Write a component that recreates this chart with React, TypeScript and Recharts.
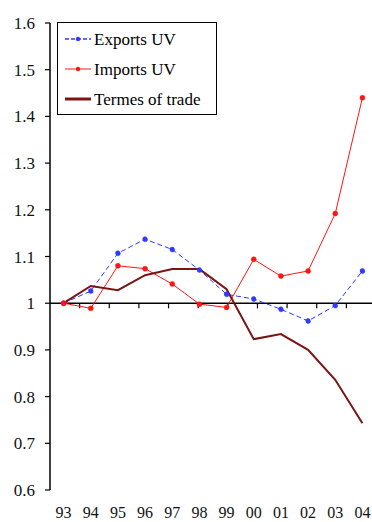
import { Legend, Line, LineChart, ReferenceLine, XAxis, YAxis } from "recharts";

const YEARS = ["93", "94", "95", "96", "97", "98", "99", "00", "01", "02", "03", "04"];
const EXPORTS_UV = [1.0, 1.026, 1.107, 1.137, 1.115, 1.071, 1.019, 1.009, 0.987, 0.962, 0.995, 1.069];
const IMPORTS_UV = [1.0, 0.989, 1.08, 1.074, 1.041, 0.998, 0.991, 1.094, 1.058, 1.069, 1.192, 1.44];
const TERMS_OF_TRADE = [1.0, 1.037, 1.028, 1.06, 1.073, 1.073, 1.03, 0.923, 0.934, 0.9, 0.836, 0.743];
const Y_TICKS = [0.6, 0.7, 0.8, 0.9, 1, 1.1, 1.2, 1.3, 1.4, 1.5, 1.6];

const data = YEARS.map((year, i) => ({
  year,
  exports: EXPORTS_UV[i],
  imports: IMPORTS_UV[i],
  terms: TERMS_OF_TRADE[i],
}));

// boundaries between year bands, for the small ticks hanging off the y=1 line
const BOUNDARIES = YEARS.slice(1).map((_, i) => i + 1);

const FONT = '"Liberation Serif", "Times New Roman", serif';
const BLUE = "#2b3bff";
const RED = "#ff1414";
const DARK = "#7c1414";

const LEGEND_ITEMS = [
  { label: "Exports UV", color: BLUE, dash: "4 2", dot: true, width: 1.5 },
  { label: "Imports UV", color: RED, dash: undefined, dot: true, width: 1 },
  { label: "Termes of trade", color: DARK, dash: undefined, dot: false, width: 3 },
];

function LegendBox() {
  return (
    <div
      style={{
        width: 160,
        height: 93,
        boxSizing: "border-box",
        border: "1.5px solid #000",
        background: "#fff",
        paddingTop: 1,
        fontFamily: FONT,
        fontSize: 17,
        color: "#000",
      }}
    >
      {LEGEND_ITEMS.map((it) => (
        <div key={it.label} style={{ height: 30, display: "flex", alignItems: "center" }}>
          <svg width={34} height={10} style={{ flex: "none" }}>
            <line
              x1={7}
              y1={5}
              x2={33}
              y2={5}
              stroke={it.color}
              strokeWidth={it.width}
              strokeDasharray={it.dash}
            />
            {it.dot && <circle cx={20} cy={5} r={2.2} fill={it.color} />}
          </svg>
          <span style={{ marginLeft: 2, lineHeight: 1 }}>{it.label}</span>
        </div>
      ))}
    </div>
  );
}

function YearTick({ x, y, payload }: any) {
  return (
    <text x={x} y={y} dy={28} textAnchor="middle" fontFamily={FONT} fontSize={16} fill="#111">
      {payload.value}
    </text>
  );
}

export default function App() {
  return (
    <div
      style={{
        position: "absolute",
        left: 0,
        top: 0,
        width: 372,
        height: 522,
        overflow: "hidden",
        background: "#fff",
      }}
    >
      <LineChart
        width={376}
        height={522}
        data={data}
        margin={{ top: 23, right: 0, bottom: 0, left: 0 }}
      >
        <XAxis
          dataKey="year"
          scale="band"
          interval={0}
          axisLine={false}
          tickLine={false}
          tickSize={0}
          tickMargin={0}
          height={32}
          tick={<YearTick />}
        />
        <XAxis xAxisId="grid" type="number" domain={[0, YEARS.length]} hide />
        <YAxis
          domain={[0.6, 1.6]}
          ticks={Y_TICKS}
          width={50}
          tickSize={5}
          tickMargin={10}
          axisLine={{ stroke: "#000", strokeWidth: 1.5 }}
          tickLine={{ stroke: "#000", strokeWidth: 1.2 }}
          tick={{ fontFamily: FONT, fontSize: 17, fill: "#111" }}
          tickFormatter={(v: number) => String(v)}
        />
        <ReferenceLine y={1} stroke="#000" strokeWidth={1.5} />
        {BOUNDARIES.map((b) => (
          <ReferenceLine
            key={b}
            xAxisId="grid"
            segment={[
              { x: b, y: 1 },
              { x: b, y: 0.989 },
            ]}
            stroke="#000"
            strokeWidth={1.2}
          />
        ))}
        <Legend
          layout="vertical"
          align="center"
          verticalAlign="middle"
          wrapperStyle={{ left: 57, top: 22, width: 160 }}
          content={() => <LegendBox />}
        />
        <Line
          dataKey="exports"
          stroke={BLUE}
          strokeWidth={1}
          strokeDasharray="5 3"
          dot={{ r: 2.5, fill: BLUE, stroke: BLUE, strokeWidth: 0.5 }}
          isAnimationActive={false}
        />
        <Line
          dataKey="imports"
          stroke={RED}
          strokeWidth={1}
          dot={{ r: 2.5, fill: RED, stroke: RED, strokeWidth: 0.5 }}
          isAnimationActive={false}
        />
        <Line
          dataKey="terms"
          stroke={DARK}
          strokeWidth={2}
          dot={false}
          isAnimationActive={false}
        />
      </LineChart>
    </div>
  );
}
